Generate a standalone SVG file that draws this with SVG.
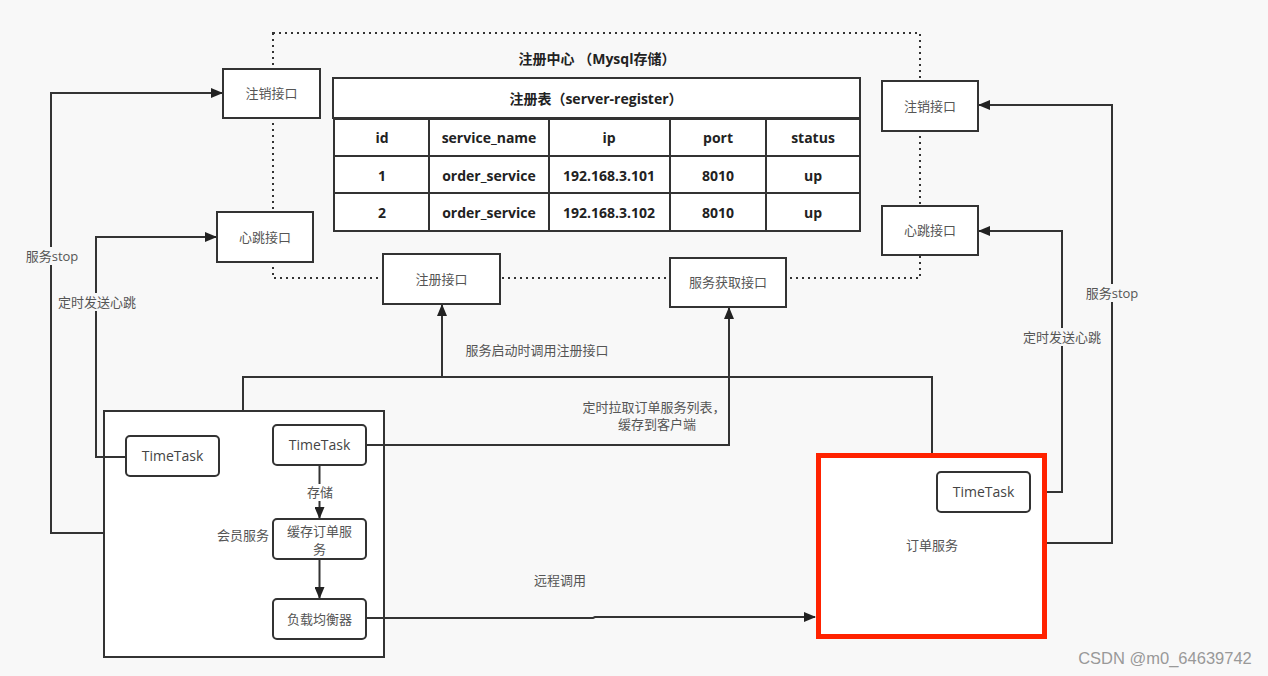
<svg xmlns="http://www.w3.org/2000/svg" width="1268" height="676" viewBox="0 0 1268 676">
<defs>
<marker id="ah" markerWidth="12" markerHeight="10" refX="11" refY="5" orient="auto" markerUnits="userSpaceOnUse">
<path d="M0,0 L12,5 L0,10 Z" fill="#222"/>
</marker>
<style>
.bg{fill:#f8f8f8}
.box{fill:#fff;stroke:#333;stroke-width:2}
.rbox{fill:#fff;stroke:#333;stroke-width:2}
.dot{fill:none;stroke:#333;stroke-width:2;stroke-dasharray:2 4}
.ln{fill:none;stroke:#333;stroke-width:2}
.arr{fill:none;stroke:#333;stroke-width:2;marker-end:url(#ah)}
.t{font-family:"Open Sans","Noto Sans CJK SC",sans-serif;font-size:13px;fill:#555;text-anchor:middle}
.tt{font-family:"Open Sans","Noto Sans CJK SC",sans-serif;font-size:14px;fill:#444;text-anchor:middle}
.tb{font-family:"Open Sans","Noto Sans CJK SC",sans-serif;font-size:14px;font-weight:bold;fill:#222;text-anchor:middle}
.lbl{font-family:"Open Sans","Noto Sans CJK SC",sans-serif;font-size:13px;fill:#555;text-anchor:middle}
.lblbg{fill:#f8f8f8}
</style>
</defs>
<rect class="bg" x="0" y="0" width="1268" height="676"/>

<g id="registry">
<rect class="dot" x="273" y="33" width="647" height="245"/>
<text class="tb" x="597" y="64">注册中心 （Mysql存储）</text>
</g>

<g id="table">
<rect class="box" x="333" y="78" width="527" height="40"/>
<text class="tb" x="596" y="104">注册表（server-register）</text>
<rect class="box" x="334" y="119" width="526" height="112"/>
<line class="ln" x1="334" y1="156" x2="860" y2="156"/>
<line class="ln" x1="334" y1="193" x2="860" y2="193"/>
<line class="ln" x1="429" y1="119" x2="429" y2="231"/>
<line class="ln" x1="549" y1="119" x2="549" y2="231"/>
<line class="ln" x1="670" y1="119" x2="670" y2="231"/>
<line class="ln" x1="766" y1="119" x2="766" y2="231"/>
<text class="tb" x="382" y="143">id</text>
<text class="tb" x="489" y="143">service_name</text>
<text class="tb" x="609" y="143">ip</text>
<text class="tb" x="718" y="143">port</text>
<text class="tb" x="813" y="143">status</text>
<text class="tb" x="382" y="181">1</text>
<text class="tb" x="489" y="181">order_service</text>
<text class="tb" x="609" y="181">192.168.3.101</text>
<text class="tb" x="718" y="181">8010</text>
<text class="tb" x="813" y="181">up</text>
<text class="tb" x="382" y="218">2</text>
<text class="tb" x="489" y="218">order_service</text>
<text class="tb" x="609" y="218">192.168.3.102</text>
<text class="tb" x="718" y="218">8010</text>
<text class="tb" x="813" y="218">up</text>
</g>

<g id="member-service">
<rect class="box" x="104" y="411" width="280" height="246"/>
<text class="lbl" x="243" y="540">会员服务</text>
</g>

<g id="connectors">
<polyline class="arr" points="104,533 51,533 51,93 222,93"/>
<polyline class="arr" points="126,457 96,457 96,237 216,237"/>
<polyline class="arr" points="1046,543 1112,543 1112,105 979,105"/>
<polyline class="arr" points="1030,492 1062,492 1062,231 979,231"/>
<polyline class="ln" points="243,411 243,377 932,377 932,453"/>
<line class="arr" x1="442" y1="377" x2="442" y2="305"/>
<polyline class="arr" points="366,445 729,445 729,308"/>
<line class="arr" x1="319.5" y1="465" x2="319.5" y2="518"/>
<line class="arr" x1="319.5" y1="559" x2="319.5" y2="598"/>
<polyline class="arr" points="366,618 593,618 595,617 815,617"/>
<rect class="lblbg" x="22" y="247" width="60" height="18"/>
<text class="lbl" x="52" y="261">服务stop</text>
<rect class="lblbg" x="56" y="293" width="82" height="18"/>
<text class="lbl" x="97" y="307">定时发送心跳</text>
<rect class="lblbg" x="1082" y="284" width="60" height="18"/>
<text class="lbl" x="1112" y="298">服务stop</text>
<rect class="lblbg" x="1021" y="328" width="82" height="18"/>
<text class="lbl" x="1062" y="342">定时发送心跳</text>
<text class="lbl" x="537" y="355">服务启动时调用注册接口</text>
<text class="lbl" x="654" y="412">定时拉取订单服务列表，</text>
<text class="lbl" x="657" y="429">缓存到客户端</text>
<text class="lbl" x="560" y="585">远程调用</text>
<rect x="302" y="484" width="36" height="17" fill="#fff"/>
<text class="lbl" x="320" y="497">存储</text>
</g>

<g id="timetask-left">
<rect class="rbox" x="126" y="436" width="93" height="40" rx="4"/>
<text class="tt" x="172.5" y="461">TimeTask</text>
</g>

<g id="timetask-member">
<rect class="rbox" x="273" y="425" width="93" height="40" rx="4"/>
<text class="tt" x="319.5" y="450">TimeTask</text>
</g>

<g id="cache">
<rect class="rbox" x="273" y="519" width="93" height="40" rx="4"/>
<text class="t" x="319.5" y="536">缓存订单服</text>
<text class="t" x="319.5" y="554">务</text>
</g>

<g id="lb">
<rect class="rbox" x="273" y="599" width="93" height="40" rx="4"/>
<text class="t" x="319.5" y="624">负载均衡器</text>
</g>

<g id="order-service">
<rect x="818.5" y="455.5" width="226" height="181" fill="#fff" stroke="#ff2200" stroke-width="5"/>
<text class="lbl" x="932" y="550">订单服务</text>
</g>

<g id="timetask-order">
<rect class="rbox" x="937" y="472" width="93" height="40" rx="4"/>
<text class="tt" x="983.5" y="497">TimeTask</text>
</g>

<g id="unreg-left">
<rect class="box" x="223" y="69" width="97" height="49"/>
<text class="t" x="271.5" y="98">注销接口</text>
</g>
<g id="hb-left">
<rect class="box" x="217" y="212" width="96" height="50"/>
<text class="t" x="265" y="242">心跳接口</text>
</g>
<g id="unreg-right">
<rect class="box" x="882" y="81" width="96" height="50"/>
<text class="t" x="930" y="111">注销接口</text>
</g>
<g id="hb-right">
<rect class="box" x="882" y="206" width="96" height="49"/>
<text class="t" x="930" y="235">心跳接口</text>
</g>
<g id="reg">
<rect class="box" x="383" y="254" width="117" height="50"/>
<text class="t" x="441.5" y="284">注册接口</text>
</g>
<g id="fetch">
<rect class="box" x="670" y="258" width="116" height="49"/>
<text class="t" x="728" y="287">服务获取接口</text>
</g>

<text x="1165" y="664" font-family="'Liberation Sans',sans-serif" font-size="16.5" fill="#999" text-anchor="middle">CSDN @m0_64639742</text>
</svg>
